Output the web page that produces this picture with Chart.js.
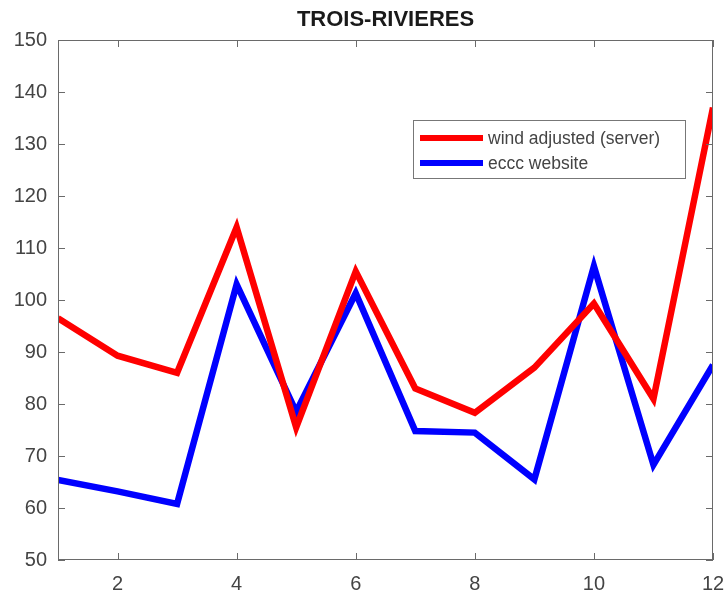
<!DOCTYPE html>
<html>
<head>
<meta charset="utf-8">
<script src="https://cdn.jsdelivr.net/npm/chart.js@4/dist/chart.umd.min.js"></script>
<style>
  html, body { margin: 0; padding: 0; background: #fff; }
  #wrap { width: 727px; height: 597px; }
</style>
</head>
<body>
<div id="wrap"><canvas id="chart"></canvas></div>
<script>
// --- Data ---
const chartTitle = 'TROIS-RIVIERES';
const months = [1, 2, 3, 4, 5, 6, 7, 8, 9, 10, 11, 12];
const windAdjusted = [96.5, 89.3, 86, 114, 75.5, 105.5, 83, 78.3, 87, 99.3, 81, 137];
const ecccWebsite = [65.4, 63.2, 60.8, 103, 78.5, 101.3, 74.8, 74.5, 65.5, 106.5, 68.3, 87.5];
const xTicks = [2, 4, 6, 8, 10, 12];
const yTicks = [50, 60, 70, 80, 90, 100, 110, 120, 130, 140, 150];

const AXIS_COLOR = '#6a6a6a';
const TEXT_COLOR = '#444444';
const FONT = 'Liberation Sans, Arial, sans-serif';

// box + inward ticks + legend + title (centered on axes, like matlab)
const matlabAxes = {
    id: 'matlabAxes',
    afterDraw(chart) {
        const { ctx, chartArea: a, scales } = chart;
        const len = 7;
        ctx.save();
        ctx.strokeStyle = AXIS_COLOR;
        ctx.lineWidth = 1;
        ctx.strokeRect(a.left + 0.5, a.top + 0.5, a.right - a.left - 1, a.bottom - a.top - 1);
        ctx.beginPath();
        xTicks.forEach(v => {
            const x = Math.round(scales.x.getPixelForValue(v)) + 0.5;
            ctx.moveTo(x, a.bottom); ctx.lineTo(x, a.bottom - len);
            ctx.moveTo(x, a.top); ctx.lineTo(x, a.top + len);
        });
        yTicks.forEach(v => {
            const y = Math.round(scales.y.getPixelForValue(v)) + 0.5;
            ctx.moveTo(a.left, y); ctx.lineTo(a.left + len, y);
            ctx.moveTo(a.right, y); ctx.lineTo(a.right - len, y);
        });
        ctx.stroke();

        // title
        ctx.fillStyle = '#1a1a1a';
        ctx.font = 'bold 22px ' + FONT;
        ctx.textAlign = 'center';
        ctx.textBaseline = 'middle';
        ctx.fillText(chartTitle, (a.left + a.right) / 2, 20);

        // legend
        const bx = 413, by = 120, bw = 272, bh = 58;
        ctx.fillStyle = '#fff';
        ctx.fillRect(bx, by, bw, bh);
        ctx.strokeStyle = '#777';
        ctx.strokeRect(bx + 0.5, by + 0.5, bw, bh);
        ctx.font = '17.5px ' + FONT;
        ctx.textAlign = 'left';
        chart.data.datasets.forEach((ds, i) => {
            const y = by + 18 + i * 25;
            ctx.strokeStyle = ds.borderColor;
            ctx.lineWidth = 6;
            ctx.beginPath();
            ctx.moveTo(bx + 7, y); ctx.lineTo(bx + 70, y);
            ctx.stroke();
            ctx.fillStyle = TEXT_COLOR;
            ctx.fillText(ds.label, bx + 75, y + 1);
        });
        ctx.restore();
    }
};

new Chart(document.getElementById('chart'), {
    type: 'line',
    data: {
        labels: months,
        datasets: [
            { label: 'wind adjusted (server)', data: windAdjusted, borderColor: '#ff0000', borderWidth: 6.5, pointRadius: 0, tension: 0, borderJoinStyle: 'miter' },
            { label: 'eccc website', data: ecccWebsite, borderColor: '#0000ff', borderWidth: 6.5, pointRadius: 0, tension: 0, borderJoinStyle: 'miter' }
        ].map(ds => ({ ...ds, data: ds.data.map((v, i) => ({ x: months[i], y: v })) }))
    },
    options: {
        responsive: true,
        maintainAspectRatio: false,
        animation: false,
        layout: { padding: { top: 40, right: 14, left: 0, bottom: 0 } },
        plugins: {
            legend: { display: false },
            tooltip: { enabled: false },
            title: { display: false }
        },
        scales: {
            x: {
                type: 'linear', min: 1, max: 12,
                grid: { display: false, drawTicks: false },
                border: { display: false },
                afterBuildTicks: s => { s.ticks = xTicks.map(v => ({ value: v })); },
                afterFit: s => { s.height = 37; s.paddingRight = 0; },
                ticks: { color: TEXT_COLOR, font: { family: FONT, size: 20 }, padding: 12, maxRotation: 0 }
            },
            y: {
                min: 50, max: 150,
                grid: { display: false, drawTicks: false },
                border: { display: false },
                afterBuildTicks: s => { s.ticks = yTicks.map(v => ({ value: v })); },
                afterFit: s => { s.width = 58; s.paddingTop = 0; s.paddingBottom = 0; },
                ticks: { color: TEXT_COLOR, font: { family: FONT, size: 20 }, padding: 11 }
            }
        }
    },
    plugins: [matlabAxes]
});
</script>
</body>
</html>
